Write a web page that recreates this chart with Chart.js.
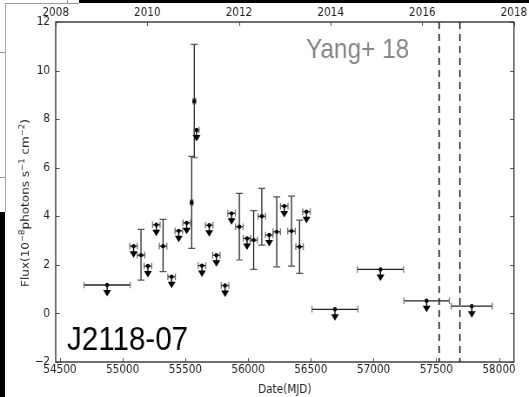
<!DOCTYPE html>
<html>
<head>
<meta charset="utf-8">
<script src="https://cdn.jsdelivr.net/npm/chart.js@4.4.1/dist/chart.umd.min.js"></script>
<style>
  html, body { margin: 0; padding: 0; background: #fff; }
  body { width: 529px; height: 397px; overflow: hidden; position: relative; }
  /* figure is drawn wide and squeezed horizontally */
  #wrap { position: absolute; left: 0; top: 0; width: 608px; height: 397px; transform: scaleX(0.87); transform-origin: 0 0; }
  .edge { position: absolute; }
</style>
</head>
<body>
<div class="edge" style="left:79px;top:0;width:450px;height:3px;background:#000"></div>
<div class="edge" style="left:5px;top:3px;width:74px;height:1px;background:#999"></div>
<div class="edge" style="left:67px;top:0;width:1px;height:3px;background:#999"></div>
<div class="edge" style="left:5px;top:3px;width:1px;height:209px;background:#aaa"></div>
<div class="edge" style="left:0;top:52px;width:5px;height:1px;background:#999"></div>
<div class="edge" style="left:0;top:177px;width:5px;height:1px;background:#999"></div>
<div class="edge" style="left:0;top:212px;width:5px;height:185px;background:#000"></div>
<div id="wrap"><canvas id="chart" width="608" height="397"></canvas></div>
<script>
// detected bins: MJD centre, flux, 1-sigma range, half bin width (days)
const detMjd  = [55146, 55322, 55550, 55571, 55930, 56044, 56109, 56228, 56346, 56410];
const detFlux = [2.40, 2.77, 4.57, 8.74, 3.57, 3.02, 4.00, 3.36, 3.39, 2.75];
const detLo   = [1.37, 1.72, 2.68, 6.41, 2.20, 1.81, 2.81, 1.92, 1.95, 1.65];
const detHi   = [3.46, 3.87, 6.47, 11.08, 4.94, 4.23, 5.15, 4.80, 4.83, 3.84];
const detHalf = [30, 30, 10, 10, 30, 30, 30, 30, 30, 30];

// upper limits
const ulMjd  = [54876, 55087, 55201, 55268, 55390, 55447, 55510, 55589, 55632, 55690, 55747,
                55816, 55868, 55991, 56168, 56288, 56465, 56692, 57055, 57423, 57783];
const ulFlux = [1.17, 2.77, 1.95, 3.65, 1.51, 3.40, 3.73, 7.55, 1.97, 3.63, 2.40,
                1.15, 4.12, 3.09, 3.23, 4.42, 4.19, 0.17, 1.81, 0.52, 0.30];
const ulHalf = [184, 30, 30, 30, 30, 30, 30, 20, 30, 30, 30,
                30, 30, 30, 30, 30, 30, 183, 184, 181, 163];

// vertical dashed markers (MJD)
const markLines = [57523, 57688];

const mjdTicks  = [54500, 55000, 55500, 56000, 56500, 57000, 57500, 58000];
const yearTicks = [2008, 2010, 2012, 2014, 2016, 2018];
const fluxTicks = [-2, 0, 2, 4, 6, 8, 10, 12];

const tickFont = {family: 'DejaVu Sans', size: 12};
const setTicks = list => axis => { axis.ticks = list.map(v => ({value: v})); };
const noGrid = {display: false, drawTicks: false};

const errorBars = {
  id: 'errorBars',
  beforeDatasetsDraw(chart) {
    const {ctx, chartArea: a, scales: {x, y}} = chart;
    ctx.save();
    ctx.strokeStyle = '#000';
    ctx.lineWidth = 1.4;
    ctx.setLineDash([7, 5]);
    markLines.forEach(m => {
      const px = x.getPixelForValue(m);
      ctx.beginPath(); ctx.moveTo(px, a.top); ctx.lineTo(px, a.bottom); ctx.stroke();
    });
    ctx.setLineDash([]);

    const hbar = (xc, half, yv) => {
      const x0 = x.getPixelForValue(xc - half), x1 = x.getPixelForValue(xc + half);
      const py = y.getPixelForValue(yv);
      ctx.strokeStyle = '#222'; ctx.lineWidth = 1.3;
      ctx.beginPath(); ctx.moveTo(x0, py); ctx.lineTo(x1, py); ctx.stroke();
      ctx.strokeStyle = '#666'; ctx.lineWidth = 1.2;
      ctx.beginPath();
      ctx.moveTo(x0, py - 3.3); ctx.lineTo(x0, py + 3.3);
      ctx.moveTo(x1, py - 3.3); ctx.lineTo(x1, py + 3.3);
      ctx.stroke();
    };

    detMjd.forEach((m, i) => {
      const px = x.getPixelForValue(m);
      const p0 = y.getPixelForValue(detLo[i]), p1 = y.getPixelForValue(detHi[i]);
      ctx.strokeStyle = '#222'; ctx.lineWidth = 1.3;
      ctx.beginPath(); ctx.moveTo(px, p0); ctx.lineTo(px, p1); ctx.stroke();
      ctx.strokeStyle = '#555'; ctx.lineWidth = 1.2;
      ctx.beginPath();
      ctx.moveTo(px - 4, p0); ctx.lineTo(px + 4, p0);
      ctx.moveTo(px - 4, p1); ctx.lineTo(px + 4, p1);
      ctx.stroke();
      hbar(m, detHalf[i], detFlux[i]);
    });

    // upper limits: bin bar plus a short downward arrow
    ulMjd.forEach((m, i) => {
      hbar(m, ulHalf[i], ulFlux[i]);
      const px = x.getPixelForValue(m), py = y.getPixelForValue(ulFlux[i]);
      ctx.strokeStyle = '#000'; ctx.lineWidth = 1.4;
      ctx.beginPath(); ctx.moveTo(px, py); ctx.lineTo(px, py + 7); ctx.stroke();
      ctx.fillStyle = '#000';
      ctx.beginPath();
      ctx.moveTo(px - 4.5, py + 5); ctx.lineTo(px + 4.5, py + 5); ctx.lineTo(px, py + 11.5);
      ctx.closePath(); ctx.fill();
    });
    ctx.restore();
  },
  afterDraw(chart) {
    const {ctx, chartArea: a, scales} = chart;
    ctx.save();
    // inward tick marks on all four sides
    ctx.strokeStyle = '#555'; ctx.lineWidth = 1;
    ctx.beginPath();
    mjdTicks.forEach(v => {
      const px = Math.round(scales.x.getPixelForValue(v)) + 0.5;
      ctx.moveTo(px, a.bottom); ctx.lineTo(px, a.bottom - 4);
    });
    yearTicks.forEach(v => {
      const px = Math.round(scales.top.getPixelForValue(v)) + 0.5;
      ctx.moveTo(px, a.top); ctx.lineTo(px, a.top + 4);
    });
    fluxTicks.forEach(v => {
      const py = Math.round(scales.y.getPixelForValue(v)) + 0.5;
      ctx.moveTo(a.left, py); ctx.lineTo(a.left + 4.6, py);
      ctx.moveTo(a.right, py); ctx.lineTo(a.right - 4.6, py);
    });
    ctx.stroke();

    // axes box
    ctx.strokeStyle = '#333'; ctx.lineWidth = 1.4;
    ctx.strokeRect(a.left, a.top, a.right - a.left, a.bottom - a.top);

    // y-axis title with superscripts
    const parts = [['Flux(10', 0], ['\u22128', 1], ['photons s', 0], ['\u22121', 1], [' cm', 0], ['\u22122', 1], [')', 0]];
    const big = '12px "DejaVu Sans"', small = '8.5px "DejaVu Sans"';
    let total = 0;
    parts.forEach(([t, s]) => { ctx.font = s ? small : big; total += ctx.measureText(t).width; });
    ctx.translate(28.7, 203);
    ctx.rotate(-Math.PI / 2);
    ctx.fillStyle = '#222';
    ctx.textBaseline = 'alphabetic';
    let cx = -total / 2;
    parts.forEach(([t, s]) => {
      ctx.font = s ? small : big;
      ctx.fillText(t, cx, s ? -0.5 : 4);
      cx += ctx.measureText(t).width;
    });
    ctx.setTransform(1, 0, 0, 1, 0, 0);

    // panel labels
    ctx.font = '28px "Liberation Sans"';
    ctx.fillStyle = '#858585';
    ctx.fillText('Yang+ 18', a.left + 287.7, a.top + 36);
    ctx.font = '34px "Liberation Sans"';
    ctx.fillStyle = '#000';
    ctx.fillText('J2118-07', a.left + 13, a.bottom - 12.5);
    ctx.restore();
  }
};

const ctx = document.getElementById('chart').getContext('2d');
new Chart(ctx, {
  type: 'scatter',
  data: {
    datasets: [{
      label: 'detections',
      data: detMjd.map((m, i) => ({x: m, y: detFlux[i]})),
      pointRadius: 2.2, pointBackgroundColor: '#000', pointBorderWidth: 0
    }, {
      label: 'upper limits',
      data: ulMjd.map((m, i) => ({x: m, y: ulFlux[i]})),
      pointRadius: 2.2, pointBackgroundColor: '#000', pointBorderWidth: 0
    }]
  },
  options: {
    responsive: false,
    animation: false,
    devicePixelRatio: 1,
    layout: {padding: {left: 0, right: 12.6, top: 0, bottom: 0}},
    plugins: {legend: {display: false}, tooltip: {enabled: false}},
    scales: {
      x: {
        type: 'linear', position: 'bottom', min: 54466, max: 58119,
        afterBuildTicks: setTicks(mjdTicks),
        afterFit: s => { s.height = 35; },
        grid: noGrid, border: {display: false},
        ticks: {font: tickFont, color: '#222', padding: 1, maxRotation: 0, autoSkip: false,
                callback: v => String(v)},
        title: {display: true, text: 'Date(MJD)', font: tickFont, color: '#222', padding: 0}
      },
      top: {
        type: 'linear', position: 'top', min: 2008, max: 2018,
        afterBuildTicks: setTicks(yearTicks),
        afterFit: s => { s.height = 22; },
        grid: noGrid, border: {display: false},
        ticks: {font: tickFont, color: '#222', padding: 2, maxRotation: 0, autoSkip: false,
                callback: v => String(v)}
      },
      y: {
        type: 'linear', position: 'left', min: -2, max: 12,
        afterBuildTicks: setTicks(fluxTicks),
        afterFit: s => { s.width = 64; },
        grid: noGrid, border: {display: false},
        ticks: {font: tickFont, color: '#222', padding: 6.5, autoSkip: false,
                callback: v => v < 0 ? '\u2212' + (-v) : String(v)}
      }
    }
  },
  plugins: [errorBars]
});
</script>
</body>
</html>
